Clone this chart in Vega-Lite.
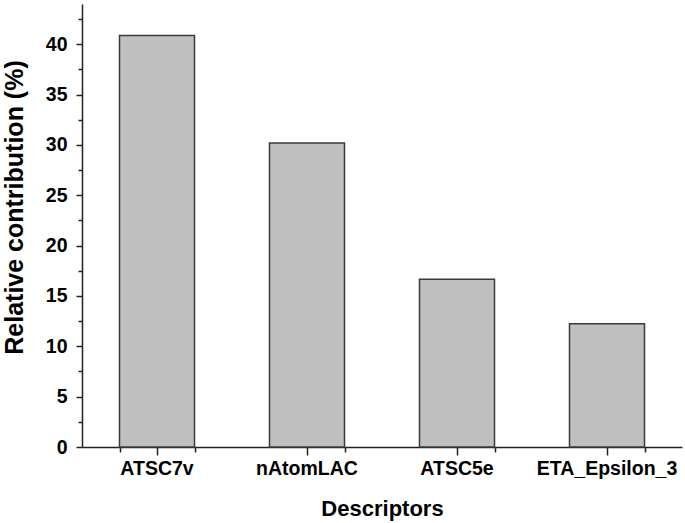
{
  "$schema": "https://vega.github.io/schema/vega-lite/v6.json",
  "width": 600,
  "height": 443,
  "autosize": "none",
  "padding": {"left": 82, "top": 4, "right": 3, "bottom": 76},
  "background": "white",
  "config": {
    "view": {"stroke": null},
    "axis": {
      "labelFont": "Liberation Sans",
      "titleFont": "Liberation Sans",
      "labelFontWeight": "bold",
      "titleFontWeight": "bold",
      "labelColor": "black",
      "titleColor": "black",
      "domainColor": "#222222",
      "tickColor": "#222222",
      "domainWidth": 1.5,
      "tickWidth": 1.5,
      "grid": false
    }
  },
  "data": {
    "values": [
      {"descriptor": "ATSC7v", "contribution": 40.87},
      {"descriptor": "nAtomLAC", "contribution": 30.19},
      {"descriptor": "ATSC5e", "contribution": 16.66},
      {"descriptor": "ETA_Epsilon_3", "contribution": 12.24}
    ]
  },
  "layer": [
    {
      "mark": {"type": "bar", "fill": "#c0c0c0", "stroke": "#3a3a3a", "strokeWidth": 1.5},
      "encoding": {
        "x": {
          "field": "descriptor",
          "type": "nominal",
          "sort": null,
          "scale": {"paddingInner": 0.5, "paddingOuter": 0.25},
          "axis": {
            "orient": "bottom",
            "title": "Descriptors",
            "labelAngle": 0,
            "labelFontSize": 19.5,
            "titleFontSize": 22,
            "tickSize": 8,
            "labelPadding": 4,
            "titlePadding": 21
          }
        },
        "y": {
          "field": "contribution",
          "type": "quantitative",
          "scale": {"domain": [0, 44], "nice": false},
          "axis": {
            "orient": "left",
            "title": "Relative contribution (%)",
            "values": [0, 5, 10, 15, 20, 25, 30, 35, 40],
            "labelFontSize": 19.5,
            "titleFontSize": 25,
            "tickSize": 6,
            "labelPadding": 9,
            "titleBaseline": "middle",
            "titleAlign": "center",
            "titleX": -68,
            "titleY": 203
          }
        }
      }
    },
    {
      "mark": {"type": "bar", "opacity": 0},
      "encoding": {
        "x": {
          "field": "descriptor",
          "type": "nominal",
          "sort": null,
          "axis": {
            "orient": "bottom",
            "title": null,
            "labels": false,
            "domain": false,
            "tickBand": "extent",
            "tickSize": 5
          }
        },
        "y": {
          "field": "contribution",
          "type": "quantitative",
          "axis": {
            "orient": "left",
            "title": null,
            "labels": false,
            "domain": false,
            "values": [2.5, 7.5, 12.5, 17.5, 22.5, 27.5, 32.5, 37.5, 42.5],
            "tickSize": 4
          }
        }
      }
    }
  ],
  "resolve": {"axis": {"x": "independent", "y": "independent"}}
}
